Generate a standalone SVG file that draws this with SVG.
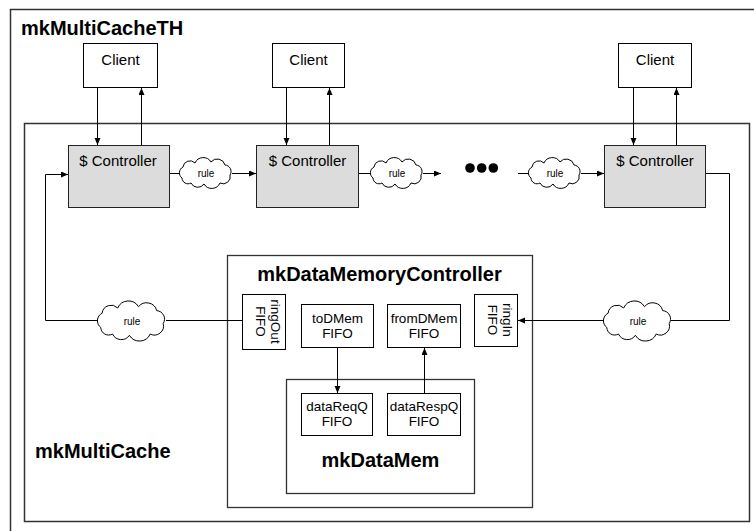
<svg xmlns="http://www.w3.org/2000/svg" width="754" height="531" viewBox="0 0 754 531">
<style>
text{font-family:"Liberation Sans",Arial,sans-serif;fill:#000}
.title{font-size:20px;font-weight:bold}
.lbl{font-size:15px;text-anchor:middle}
.fifo{font-size:13.5px;text-anchor:middle}
.rule{font-size:10px;text-anchor:middle}
.box{fill:#fff;stroke:#000;stroke-width:1}
.ctrl{fill:#dcdcdc;stroke:#222;stroke-width:1}
.frame{fill:none;stroke:#333;stroke-width:1.5}
.cont{fill:#fff;stroke:#333;stroke-width:1.3}
.cloud{fill:#fff;stroke:#000;stroke-width:1}
.wire{fill:none;stroke:#000;stroke-width:1}
.arr{marker-end:url(#ah)}
</style>
<defs>
<marker id="ah" markerUnits="userSpaceOnUse" markerWidth="8" markerHeight="7" refX="7" refY="3" orient="auto">
<path d="M0,0 L7,3 L0,6 Z" fill="#000"/>
</marker>
<path id="cloudShape" vector-effect="non-scaling-stroke" d="M-24,5 A6.5,6.5 0 0 1 -23,-6 A7,7 0 0 1 -11,-10 A9,9 0 0 1 5,-11 A8,8 0 0 1 19,-8 A6.5,6.5 0 0 1 24,2 A7,7 0 0 1 14,10 A9,9 0 0 1 -2,11 A7.5,7.5 0 0 1 -15,10 A6,6 0 0 1 -24,5 Z"/>
</defs>
<rect width="754" height="531" fill="#fff"/>

<g id="mkMultiCacheTH">
<rect class="frame" x="10.5" y="9.5" width="760" height="540"/>
<text class="title" x="21" y="35">mkMultiCacheTH</text>
</g>

<g id="mkMultiCache">
<rect class="frame" x="24.5" y="123.5" width="725" height="398"/>
<text class="title" x="35" y="458">mkMultiCache</text>
</g>

<g id="client1"><rect class="box" x="83.5" y="43.5" width="74" height="44"/><text class="lbl" x="120.5" y="65">Client</text></g>
<g id="client2"><rect class="box" x="272.5" y="43.5" width="72" height="44"/><text class="lbl" x="308.5" y="65">Client</text></g>
<g id="client3"><rect class="box" x="618.5" y="43.5" width="73" height="44"/><text class="lbl" x="655" y="65">Client</text></g>

<g id="ctrl1"><rect class="ctrl" x="68.5" y="145.5" width="101" height="62"/><text class="lbl" x="118" y="166">$ Controller</text></g>
<g id="ctrl2"><rect class="ctrl" x="256.5" y="145.5" width="102" height="62"/><text class="lbl" x="307.5" y="166">$ Controller</text></g>
<g id="ctrl3"><rect class="ctrl" x="604.5" y="145.5" width="101" height="62"/><text class="lbl" x="655" y="166">$ Controller</text></g>

<g id="rule1"><use href="#cloudShape" class="cloud" transform="translate(206,173)"/><text class="rule" x="206" y="176.5">rule</text></g>
<g id="rule2"><use href="#cloudShape" class="cloud" transform="translate(397,173)"/><text class="rule" x="397" y="176.5">rule</text></g>
<g id="rule3"><use href="#cloudShape" class="cloud" transform="translate(555,173)"/><text class="rule" x="555" y="176.5">rule</text></g>
<g id="rule4"><use href="#cloudShape" class="cloud" transform="translate(132,321) scale(1.3)"/><text class="rule" x="132" y="324.5">rule</text></g>
<g id="rule5"><use href="#cloudShape" class="cloud" transform="translate(638,321) scale(1.3)"/><text class="rule" x="638" y="324.5">rule</text></g>

<g id="ellipsis" fill="#000">
<circle cx="470" cy="168" r="4.8"/><circle cx="481.7" cy="168" r="4.8"/><circle cx="493.3" cy="168" r="4.8"/>
</g>

<g id="mkDataMemoryController">
<rect class="cont" x="227.5" y="255.5" width="305" height="252"/>
<text class="title" x="379.5" y="281" text-anchor="middle">mkDataMemoryController</text>
</g>

<g id="ringOut"><rect class="box" x="242.5" y="294.5" width="43" height="55"/>
<text class="fifo" transform="translate(264,321.5) rotate(90)"><tspan x="0" y="-7">ringOut</tspan><tspan x="0" y="8">FIFO</tspan></text></g>
<g id="toDMem"><rect class="box" x="301.5" y="304.5" width="72" height="43"/>
<text class="fifo" x="337.5" y="323">toDMem</text><text class="fifo" x="337.5" y="338">FIFO</text></g>
<g id="fromDMem"><rect class="box" x="387.5" y="304.5" width="73" height="43"/>
<text class="fifo" x="424" y="323">fromDMem</text><text class="fifo" x="424" y="338">FIFO</text></g>
<g id="ringIn"><rect class="box" x="474.5" y="294.5" width="43" height="52"/>
<text class="fifo" transform="translate(496,320) rotate(90)"><tspan x="0" y="-7">ringIn</tspan><tspan x="0" y="8">FIFO</tspan></text></g>

<g id="mkDataMem">
<rect class="cont" x="286.5" y="379.5" width="188" height="114"/>
<text class="title" x="380.5" y="467" text-anchor="middle">mkDataMem</text>
</g>
<g id="dataReqQ"><rect class="box" x="301.5" y="393.5" width="71" height="42"/>
<text class="fifo" x="337" y="411">dataReqQ</text><text class="fifo" x="337" y="426">FIFO</text></g>
<g id="dataRespQ"><rect class="box" x="387.5" y="393.5" width="73" height="42"/>
<text class="fifo" x="424" y="411">dataRespQ</text><text class="fifo" x="424" y="426">FIFO</text></g>

<g id="connectors">
<path class="wire arr" d="M97.5,88 V145"/>
<path class="wire arr" d="M141.5,145 V88"/>
<path class="wire arr" d="M286.5,88 V145"/>
<path class="wire arr" d="M329.5,145 V88"/>
<path class="wire arr" d="M633.5,88 V145"/>
<path class="wire arr" d="M676.5,145 V88"/>
<path class="wire" d="M170,173.5 H180"/>
<path class="wire arr" d="M232,173.5 H256"/>
<path class="wire" d="M359,173.5 H371"/>
<path class="wire arr" d="M423,173.5 H441"/>
<path class="wire" d="M518,173.5 H529"/>
<path class="wire arr" d="M581,173.5 H604"/>
<path class="wire" d="M706,173.5 H729.5 V320.5 H671"/>
<path class="wire arr" d="M604,320.5 H518"/>
<path class="wire" d="M242,320.5 H166"/>
<path class="wire arr" d="M98,320.5 H45.5 V174.5 H68"/>
<path class="wire arr" d="M337.5,348 V393"/>
<path class="wire arr" d="M424.5,393 V348"/>
</g>
</svg>
